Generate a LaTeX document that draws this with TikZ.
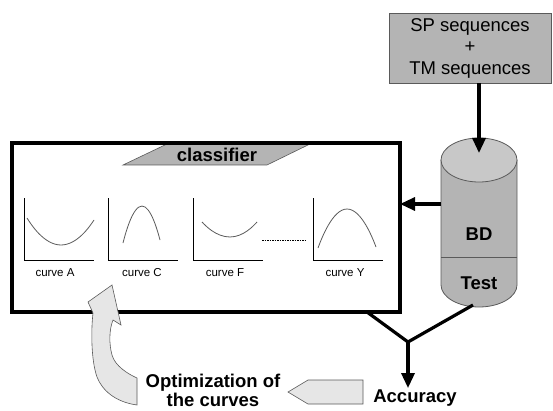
\documentclass[tikz,border=0pt]{standalone}
\usepackage{fontspec}
\setmainfont{Liberation Sans}
\usetikzlibrary{arrows.meta}
\definecolor{boxgray}{RGB}{180,180,180}
\definecolor{capgray}{RGB}{200,200,200}
\definecolor{hollow}{RGB}{230,230,230}
\definecolor{edgegray}{RGB}{90,90,90}
\tikzset{
  heavy/.style={line width=3.2pt},
  flow/.style={heavy,-{Triangle[length=15pt,width=13pt]}},
  bigbold/.style={font=\fontsize{18.5}{19}\selectfont\bfseries,inner sep=1pt},
  plain/.style={font=\fontsize{18.5}{21.5}\selectfont,inner sep=1pt},
  small/.style={font=\fontsize{11.5}{13}\selectfont,inner sep=0pt},
  axes/.style={line width=0.7pt,black},
  curve/.style={line width=0.8pt,edgegray},
  hollowarrow/.style={fill=hollow,draw=edgegray,line width=0.6pt},
}
\begin{document}
\begin{tikzpicture}[x=1pt,y=1pt]
\useasboundingbox (0,0) rectangle (553,410);

% title tag of the classifier frame
\filldraw[fill=boxgray,draw=edgegray,line width=0.6pt]
  (167,266) -- (310,266) -- (267,245) -- (123,245) -- cycle;
\node[bigbold] (tag) at (217,255.5) {classifier};

% classifier frame
\node[heavy,draw,minimum width=388pt,minimum height=169pt,inner sep=0pt,outer sep=0pt]
  (clf) at (206,182.5) {};

% curve A
\draw[axes] (24,212) -- (24,150) -- (94,150);
\draw[curve] (27,192) parabola bend (61,165) (94,190);
\node[small] (lA) at (55,137) {curve A};
% curve C
\draw[axes] (108,212) -- (108,150) -- (178,150);
\draw[curve] (123,167) parabola bend (142,204) (160,170);
\node[small] (lC) at (142,137) {curve C};
% curve F
\draw[axes] (193,212) -- (193,150) -- (263,150);
\draw[curve] (202,188) parabola bend (230,173) (257,188);
\node[small] (lF) at (225,137) {curve F};
% gap marker
\draw[line width=0.6pt,dash pattern=on 1.5pt off 1pt] (262,170) -- (307,170);
% curve Y
\draw[axes] (313,212) -- (313,150) -- (383,150);
\draw[curve] (318,162) parabola bend (347,201) (376,163);
\node[small] (lY) at (345,137) {curve Y};

% input sequences
\node[plain,draw=edgegray,fill=boxgray,line width=0.8pt,minimum width=162pt,minimum height=70pt,
      align=center,inner sep=0pt] (src) at (470,362)
  {SP sequences\\+\\TM sequences};

% database cylinder
\coordinate (cylc) at (479,250);
\fill[boxgray] (441,250) -- (441,125)
  .. controls (441,113) and (458,103) .. (479,103)
  .. controls (500,103) and (517,113) .. (517,125) -- (517,250) -- cycle;
\draw[edgegray,line width=0.8pt] (441,250) -- (441,125)
  .. controls (441,113) and (458,103) .. (479,103)
  .. controls (500,103) and (517,113) .. (517,125) -- (517,250);
\filldraw[fill=capgray,draw=edgegray,line width=0.8pt] (cylc) ellipse [x radius=38,y radius=22];
\draw[edgegray,line width=0.8pt] (441,153) -- (517,153);
\node[bigbold] (bd) at (479,176) {BD};
\node[bigbold] (test) at (479,127) {Test};
\coordinate (cyltop) at (479,257);
\coordinate (cylleft) at (441,206);
\coordinate (cylbot) at (473,105);

% data flow
\draw[flow] (src.south -| cyltop) -- (cyltop);
\draw[flow] (cylleft) -- (clf.east |- cylleft);

\node[bigbold,anchor=base] (acc) at (415,8) {Accuracy};
\coordinate (clfout) at (367,98);
\coordinate (join) at (408,68);
\draw[heavy,line join=miter] (clfout) -- (join) -- (cylbot);
\draw[flow] (join) -- (acc.north -| join);

% feedback to the curves
\draw[hollowarrow] (363,30) -- (308,30) -- (288,18) -- (308,6) -- (363,6) -- cycle;
\node[align=center,inner sep=0pt,anchor=base,font=\fontsize{18.5}{18.5}\selectfont\bfseries]
  (opt) at (213,4) {Optimization of\\the curves};
\draw[hollowarrow]
  (137,5) -- (137,32)
  .. controls (128,36) and (115,44) .. (112,55)
  .. controls (109,66) and (109,80) .. (113,90)
  -- (121,85) -- (112,125) -- (88,108) -- (93,97)
  .. controls (91,80) and (91,50) .. (97,33)
  .. controls (102,20) and (115,8) .. (137,5) -- cycle;
\end{tikzpicture}
\end{document}
